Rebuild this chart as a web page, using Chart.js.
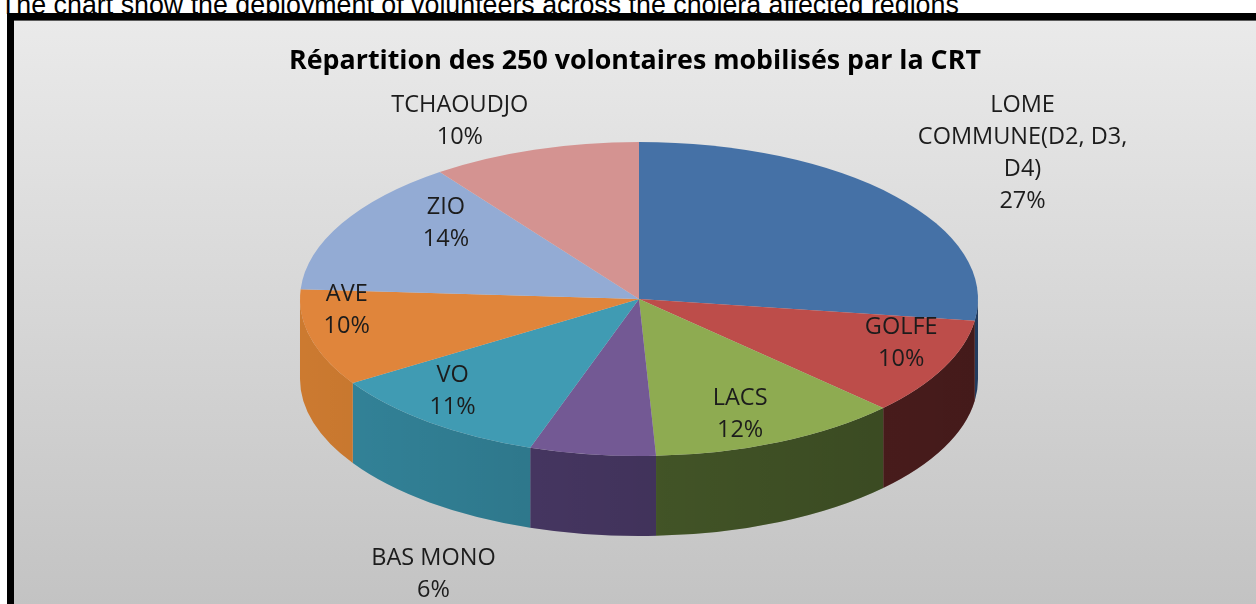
<!DOCTYPE html>
<html>
<head>
<meta charset="utf-8">
<script src="https://cdn.jsdelivr.net/npm/chart.js@4.4.1/dist/chart.umd.min.js"></script>
<style>
  html, body { margin: 0; padding: 0; background: #fff; overflow: hidden; width: 1256px; height: 604px; }
  .caption {
    position: absolute; left: 0; top: -8px;
    font: 26.8px "Liberation Sans", Arial, sans-serif; line-height: 26px;
    color: #000; white-space: nowrap;
  }
  .frame {
    position: absolute; left: 7px; top: 13px; width: 1242px; height: 600px;
    border-left: 7px solid #000; border-top: 7px solid #000;
    background: linear-gradient(#eaeaea, #c2c2c2);
    box-shadow: inset 0 1px 0 #5c5c5c;
  }
  canvas { position: absolute; left: 0; top: 1px; }
</style>
</head>
<body>
<div class="caption">The chart show the deployment of volunteers across the cholera affected regions</div>
<div class="frame"><canvas id="pie" width="1242" height="583"></canvas></div>
<script>
const regions = ["LOME COMMUNE(D2, D3, D4)", "GOLFE", "LACS", "BAS MONO", "VO", "AVE", "ZIO", "TCHAOUDJO"];
const volunteers = [68, 25, 30, 15, 27, 25, 35, 25];
// how the names wrap in the picture
const wrappedNames = [["LOME", "COMMUNE(D2, D3,", "D4)"], ["GOLFE"], ["LACS"], ["BAS MONO"], ["VO"], ["AVE"], ["ZIO"], ["TCHAOUDJO"]];
const topColors = ["#4571a6", "#bd4d4a", "#8eab51", "#735994", "#409bb3", "#e0853b", "#93abd4", "#d49391"];
const sideColors = ["#2f5282", "#5e2424", "#4d622d", "#4c3b6a", "#33849a", "#cc7a30", "#6f86ad", "#a86e6c"];

// where the tilted pie sits on the canvas
const view = { cx: 625, cy: 278, rx: 339, ry: 157, depth: 80 };
// label spot per slice, as a factor of the radii along the slice middle
const labelSpots = [[1.50, 1.41], [0.86, 0.65], [0.72, 0.81], [4.4, 1.77], [0.89, 0.75], [0.89, 0.28], [0.65, 1.0], [1.71, 1.19]];

const total = volunteers.reduce((a, b) => a + b, 0);

const tiltPlugin = {
  id: "tilt3d",
  beforeDatasetsDraw(chart) {
    const ctx = chart.ctx;
    const arcs = chart.getDatasetMeta(0).data;
    const { x, y, outerRadius: r } = arcs[0];
    const sx = view.rx / r;
    const sy = view.ry / r;
    ctx.save();
    ctx.translate(view.cx, view.cy);
    ctx.scale(sx, sy);
    ctx.translate(-x, -y);

    // side wall of the front half
    const dy = view.depth / sy;
    arcs.forEach((arc, i) => {
      const a0 = Math.max(arc.startAngle, 0);
      const a1 = Math.min(arc.endAngle, Math.PI);
      if (a1 <= a0) return;
      ctx.beginPath();
      ctx.arc(x, y, r, a0, a1);
      ctx.arc(x, y + dy, r, a1, a0, true);
      ctx.closePath();
      ctx.fillStyle = sideColors[i];
      ctx.fill();
      const shade = ctx.createLinearGradient(x - r, 0, x + r, 0);
      shade.addColorStop(0, "rgba(0,0,0,0)");
      shade.addColorStop(1, "rgba(0,0,0,0.28)");
      ctx.fillStyle = shade;
      ctx.fill();
    });
  },
  afterDatasetsDraw(chart) {
    const ctx = chart.ctx;
    ctx.restore();

    const arcs = chart.getDatasetMeta(0).data;
    ctx.save();
    ctx.font = "23.5px 'Open Sans'";
    ctx.fillStyle = "#1c1c1c";
    ctx.textAlign = "center";
    ctx.textBaseline = "middle";
    arcs.forEach((arc, i) => {
      const mid = (arc.startAngle + arc.endAngle) / 2;
      const px = view.cx + labelSpots[i][0] * view.rx * Math.cos(mid);
      const py = view.cy + labelSpots[i][1] * view.ry * Math.sin(mid);
      const lines = wrappedNames[i].concat(Math.round(volunteers[i] / total * 100) + "%");
      const lh = 32;
      lines.forEach((line, k) => {
        ctx.fillText(line, px, py + (k - (lines.length - 1) / 2) * lh);
      });
    });
    ctx.restore();
  },
};

new Chart(document.getElementById("pie"), {
  type: "pie",
  data: {
    labels: regions,
    datasets: [
      {
        data: volunteers,
        backgroundColor: topColors,
        borderWidth: 0,
        clip: false,
      },
    ],
  },
  options: {
    responsive: false,
    animation: false,
    events: [],
    layout: { padding: 0 },
    plugins: {
      legend: { display: false },
      tooltip: { enabled: false },
      title: {
        display: true,
        text: "Répartition des 250 volontaires mobilisés par la CRT",
        color: "#000",
        font: { family: "'Open Sans'", size: 26.8, weight: "bold" },
        padding: { top: 24, bottom: 10 },
      },
    },
  },
  plugins: [tiltPlugin],
});
</script>
</body>
</html>
